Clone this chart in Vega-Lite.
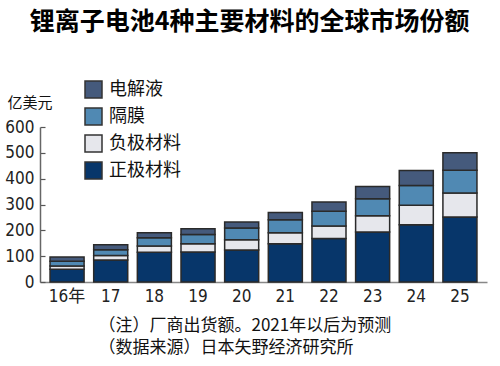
{
  "$schema": "https://vega.github.io/schema/vega-lite/v6.json",
  "width": 447,
  "height": 155,
  "autosize": {"type": "none"},
  "padding": {"left": 40, "top": 127, "right": 13, "bottom": 84},
  "background": "white",
  "title": {
    "text": "锂离子电池4种主要材料的全球市场份额",
    "font": "Noto Sans CJK SC",
    "fontSize": 25,
    "fontWeight": "bold",
    "color": "#000000",
    "anchor": "middle",
    "frame": "group",
    "dx": -14,
    "offset": 45
  },
  "data": {
    "values": [
      {"year": "16年", "type": "正极材料", "k": 1, "value": 49},
      {"year": "16年", "type": "负极材料", "k": 2, "value": 13},
      {"year": "16年", "type": "隔膜", "k": 3, "value": 18},
      {"year": "16年", "type": "电解液", "k": 4, "value": 17},
      {"year": "17", "type": "正极材料", "k": 1, "value": 85},
      {"year": "17", "type": "负极材料", "k": 2, "value": 18},
      {"year": "17", "type": "隔膜", "k": 3, "value": 22},
      {"year": "17", "type": "电解液", "k": 4, "value": 19},
      {"year": "18", "type": "正极材料", "k": 1, "value": 115},
      {"year": "18", "type": "负极材料", "k": 2, "value": 24},
      {"year": "18", "type": "隔膜", "k": 3, "value": 32},
      {"year": "18", "type": "电解液", "k": 4, "value": 20},
      {"year": "19", "type": "正极材料", "k": 1, "value": 116},
      {"year": "19", "type": "负极材料", "k": 2, "value": 32},
      {"year": "19", "type": "隔膜", "k": 3, "value": 36},
      {"year": "19", "type": "电解液", "k": 4, "value": 22},
      {"year": "20", "type": "正极材料", "k": 1, "value": 124},
      {"year": "20", "type": "负极材料", "k": 2, "value": 40},
      {"year": "20", "type": "隔膜", "k": 3, "value": 45},
      {"year": "20", "type": "电解液", "k": 4, "value": 23},
      {"year": "21", "type": "正极材料", "k": 1, "value": 148},
      {"year": "21", "type": "负极材料", "k": 2, "value": 43},
      {"year": "21", "type": "隔膜", "k": 3, "value": 50},
      {"year": "21", "type": "电解液", "k": 4, "value": 28},
      {"year": "22", "type": "正极材料", "k": 1, "value": 168},
      {"year": "22", "type": "负极材料", "k": 2, "value": 49},
      {"year": "22", "type": "隔膜", "k": 3, "value": 57},
      {"year": "22", "type": "电解液", "k": 4, "value": 36},
      {"year": "23", "type": "正极材料", "k": 1, "value": 194},
      {"year": "23", "type": "负极材料", "k": 2, "value": 62},
      {"year": "23", "type": "隔膜", "k": 3, "value": 66},
      {"year": "23", "type": "电解液", "k": 4, "value": 48},
      {"year": "24", "type": "正极材料", "k": 1, "value": 222},
      {"year": "24", "type": "负极材料", "k": 2, "value": 75},
      {"year": "24", "type": "隔膜", "k": 3, "value": 77},
      {"year": "24", "type": "电解液", "k": 4, "value": 58},
      {"year": "25", "type": "正极材料", "k": 1, "value": 252},
      {"year": "25", "type": "负极材料", "k": 2, "value": 93},
      {"year": "25", "type": "隔膜", "k": 3, "value": 88},
      {"year": "25", "type": "电解液", "k": 4, "value": 67}
    ]
  },
  "mark": {"type": "bar", "stroke": "#2a2a2a", "strokeWidth": 1.5},
  "encoding": {
    "x": {
      "field": "year",
      "type": "ordinal",
      "sort": null,
      "scale": {"paddingInner": 0.22, "paddingOuter": 0.23},
      "axis": {
        "title": ["（注）厂商出货额。2021年以后为预测", "（数据来源）日本矢野经济研究所"],
        "titleFont": "Noto Sans CJK SC",
        "titleFontSize": 17,
        "titleFontWeight": "normal",
        "titleColor": "#111111",
        "titleAlign": "left",
        "titleAnchor": "start",
        "titleX": 58,
        "titleY": 35,
        "titleBaseline": "top",
        "titleLineHeight": 22,
        "labelAngle": 0,
        "labelFont": "'Liberation Sans Narrow', 'DejaVu Sans Condensed', 'Noto Sans CJK SC', sans-serif",
        "labelFontSize": 17,
        "labelColor": "#222222",
        "labelPadding": 6,
        "ticks": false,
        "domainColor": "#888888",
        "domainWidth": 1.5
      }
    },
    "y": {
      "field": "value",
      "type": "quantitative",
      "stack": "zero",
      "scale": {"domain": [0, 600]},
      "axis": {
        "title": "亿美元",
        "titleAngle": 0,
        "titleAlign": "left",
        "titleX": -33,
        "titleY": -25,
        "titleBaseline": "middle",
        "titleFont": "Noto Sans CJK SC",
        "titleFontSize": 15,
        "titleFontWeight": "normal",
        "titleColor": "#111111",
        "values": [0, 100, 200, 300, 400, 500, 600],
        "grid": false,
        "tickSize": -5,
        "tickColor": "#555555",
        "tickWidth": 1.2,
        "domainColor": "#666666",
        "domainWidth": 1.5,
        "labelFont": "'Liberation Sans Narrow', 'DejaVu Sans Condensed', sans-serif",
        "labelFontSize": 17,
        "labelColor": "#222222",
        "labelPadding": 11
      }
    },
    "color": {
      "field": "type",
      "type": "nominal",
      "scale": {
        "domain": ["正极材料", "负极材料", "隔膜", "电解液"],
        "range": ["#07366a", "#e6e7ec", "#5089b3", "#455a7c"]
      },
      "legend": {
        "orient": "none",
        "legendX": 44,
        "legendY": -47,
        "values": ["电解液", "隔膜", "负极材料", "正极材料"],
        "title": null,
        "symbolType": "square",
        "symbolSize": 289,
        "symbolStrokeColor": "#333333",
        "symbolStrokeWidth": 1.5,
        "symbolOpacity": 1,
        "labelFont": "Noto Sans CJK SC",
        "labelFontSize": 18,
        "labelColor": "#111111",
        "labelOffset": 6,
        "rowPadding": 4,
        "padding": 0
      }
    },
    "order": {"field": "k", "type": "quantitative"}
  },
  "config": {"view": {"stroke": null}}
}
